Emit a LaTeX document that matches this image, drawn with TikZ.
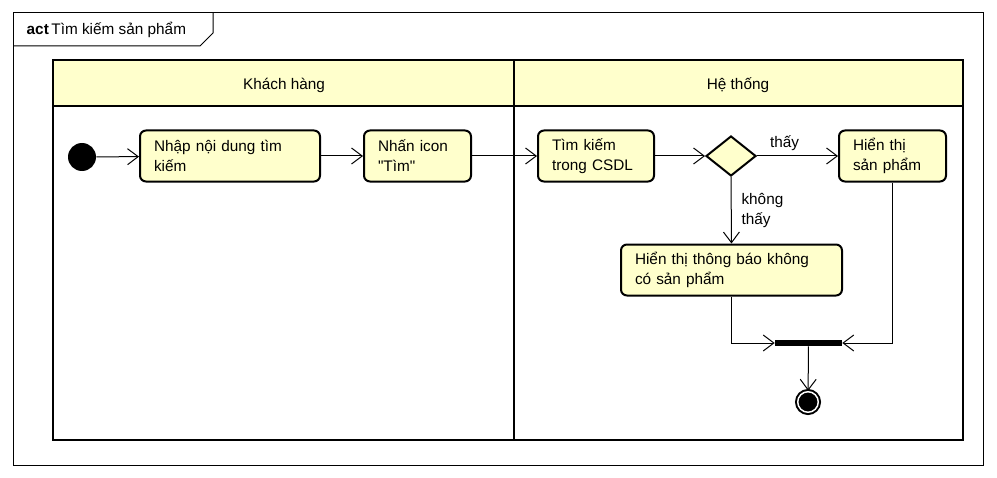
\documentclass[tikz,border=0pt]{standalone}
\usepackage{fontspec}
\setmainfont{Liberation Sans}[Ligatures=TeXOff]
\usetikzlibrary{shapes.geometric, arrows.meta}
\definecolor{actfill}{HTML}{FFFFCC}

\begin{document}
\begin{tikzpicture}[x=0.75pt, y=-0.75pt, font=\fontsize{11.5}{15}\selectfont,
  actbox/.style={draw, line width=1.5pt, rounded corners=4.5pt, fill=actfill, align=left, inner xsep=10.5pt, inner ysep=0pt, minimum height=38.25pt},
  decision/.style={diamond, draw, line width=1.5pt, fill=actfill, minimum width=37.5pt, minimum height=30pt, inner sep=0pt},
  flow/.style={-{Straight Barb[length=8pt, width=12pt]}, line width=0.75pt},
  initial/.style={circle, fill=black, minimum size=21pt, inner sep=0pt},
  final/.style={circle, fill=black, draw=black, double=white, line width=1.5pt, double distance=1.1pt, minimum size=15.4pt, inner sep=0pt},
  joinbar/.style={fill=black, minimum width=50.25pt, minimum height=4.5pt, inner sep=0pt}]
\useasboundingbox (0,0) rectangle (997,478);
\draw[line width=0.75pt] (13,13) rectangle (983,465);
\draw[line width=0.75pt] (13,46) -- (200,46) -- (213,33) -- (213,13);
\node[anchor=west] (title) at (22,30) {\textbf{act}\,Tìm kiếm sản phẩm};

\fill[actfill] (53,60) rectangle (963,106);
\draw[line width=1.5pt] (53,60) rectangle (963,440);
\draw[line width=1.5pt] (53,106) -- (963,106);
\draw[line width=1.5pt] (514,60) -- (514,440);
\node (khachhang) at (284,85) {Khách hàng};
\node (hethong) at (738,85) {Hệ thống};

\node[initial] (start) at (82,157) {};
\node[actbox, text width=114pt] (nhap) at (230,156) {Nhập nội dung tìm\\kiếm};
\node[actbox, text width=59.25pt] (nhan) at (417.5,156) {Nhấn icon\\"Tìm"};
\node[actbox, text width=66pt] (timkiem) at (596,156) {Tìm kiếm\\trong CSDL};
\node[decision] (check) at (731,156) {};
\node[actbox, text width=59.25pt] (hienthi) at (892.5,156) {Hiển thị\\sản phẩm};
\node[actbox, text width=144.75pt] (thongbao) at (731.5,270) {Hiển thị thông báo không\\có sản phẩm};
\node[joinbar] (join) at (808.5,343) {};
\node[final] (stop) at (808,402) {};

\draw[flow] (start) -- (nhap);
\draw[flow] (nhap) -- (nhan);
\draw[flow] (nhan) -- (timkiem);
\draw[flow] (timkiem) -- (check.west);
\draw[flow] (check.east) -- node[pos=0.1, above right] {thấy} (hienthi);
\draw[flow] (check.south) -- node[pos=0.5, right, align=left, xshift=4pt] {không\\thấy} (thongbao.north);
\draw[flow] (thongbao.south) |- (join.west);
\draw[flow] (hienthi.south) |- (join.east);
\draw[flow] (join) -- (stop);
\end{tikzpicture}
\end{document}
